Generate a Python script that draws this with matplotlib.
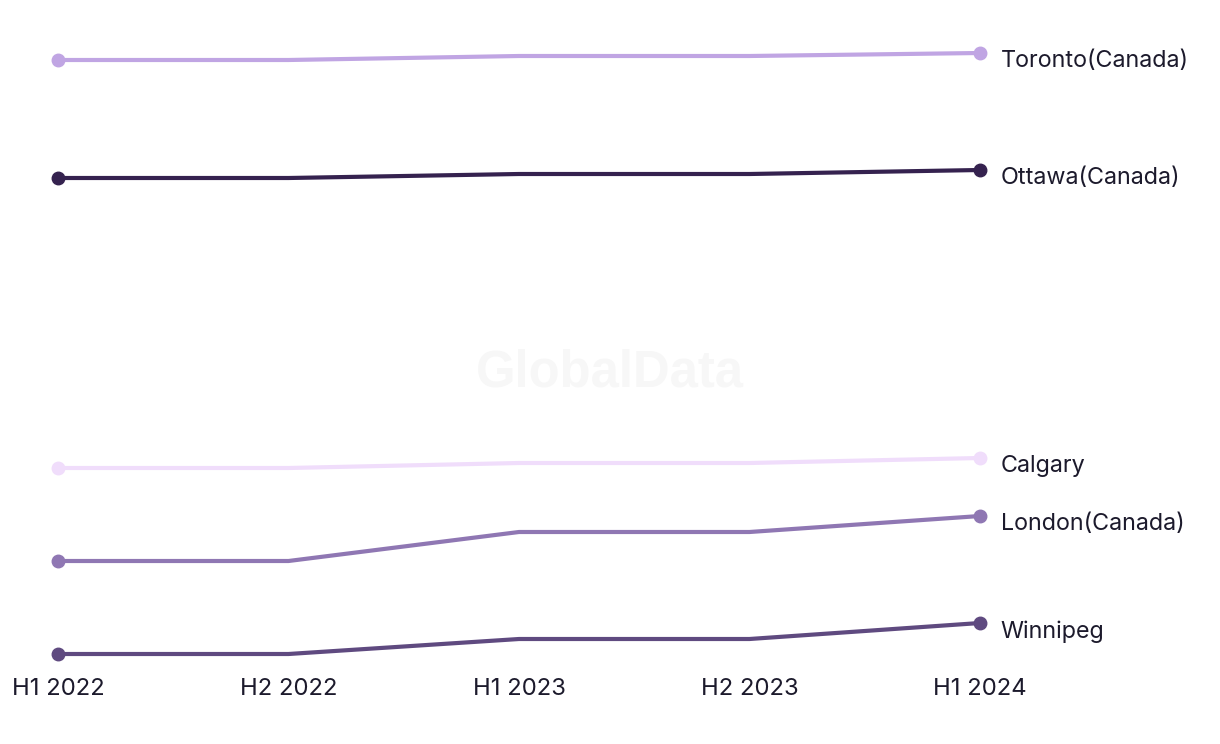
import matplotlib.pyplot as plt

periods = ["H1 2022", "H2 2022", "H1 2023", "H2 2023", "H1 2024"]

toronto = [64.0, 64.0, 64.4, 64.4, 64.7]
ottawa = [52.2, 52.2, 52.6, 52.6, 53.0]
calgary = [23.2, 23.2, 23.7, 23.7, 24.2]
london = [13.9, 13.9, 16.8, 16.8, 18.4]
winnipeg = [4.6, 4.6, 6.1, 6.1, 7.7]

series = [
    ("Toronto(Canada)", toronto, "#c0a5e3"),
    ("Ottawa(Canada)", ottawa, "#35224f"),
    ("Calgary", calgary, "#f0ddfb"),
    ("London(Canada)", london, "#8f77b3"),
    ("Winnipeg", winnipeg, "#5f4a80"),
]

text_color = "#1c1a2c"
plt.rcParams['font.family'] = ['Inter', 'DejaVu Sans']

fig = plt.figure(figsize=(12.2, 7.44), dpi=100)
W, H = 1220, 744
left, right = 58, 980
top, bottom = 53, 654
ax = fig.add_axes([left / W, (H - bottom) / H, (right - left) / W, (bottom - top) / H])

x = list(range(len(periods)))
for name, vals, col in series:
    ax.plot(x, vals, color=col, linewidth=3, marker="o", markersize=9,
            markevery=[0, len(vals) - 1], clip_on=False, solid_capstyle="round")
    ax.annotate(name, (x[-1], vals[-1]), xytext=(15, -6), textcoords="offset points",
                ha="left", va="center", fontsize=16.8, color=text_color,
                annotation_clip=False)

ax.set_xlim(0, len(periods) - 1)
ax.set_ylim(4.6, 64.7)
ax.set_xticks(x)
ax.set_xticklabels(periods, fontsize=17.2, color=text_color)
ax.tick_params(axis="x", length=0, pad=17)
ax.set_yticks([])
for s in ax.spines.values():
    s.set_visible(False)

fig.text(610 / W, (H - 373) / H, "GlobalData", fontsize=36.5, fontweight="bold",
         color="#f7f7f7", ha="center", va="center", family="Liberation Sans", zorder=0)

fig.savefig("out.png", dpi=100)
